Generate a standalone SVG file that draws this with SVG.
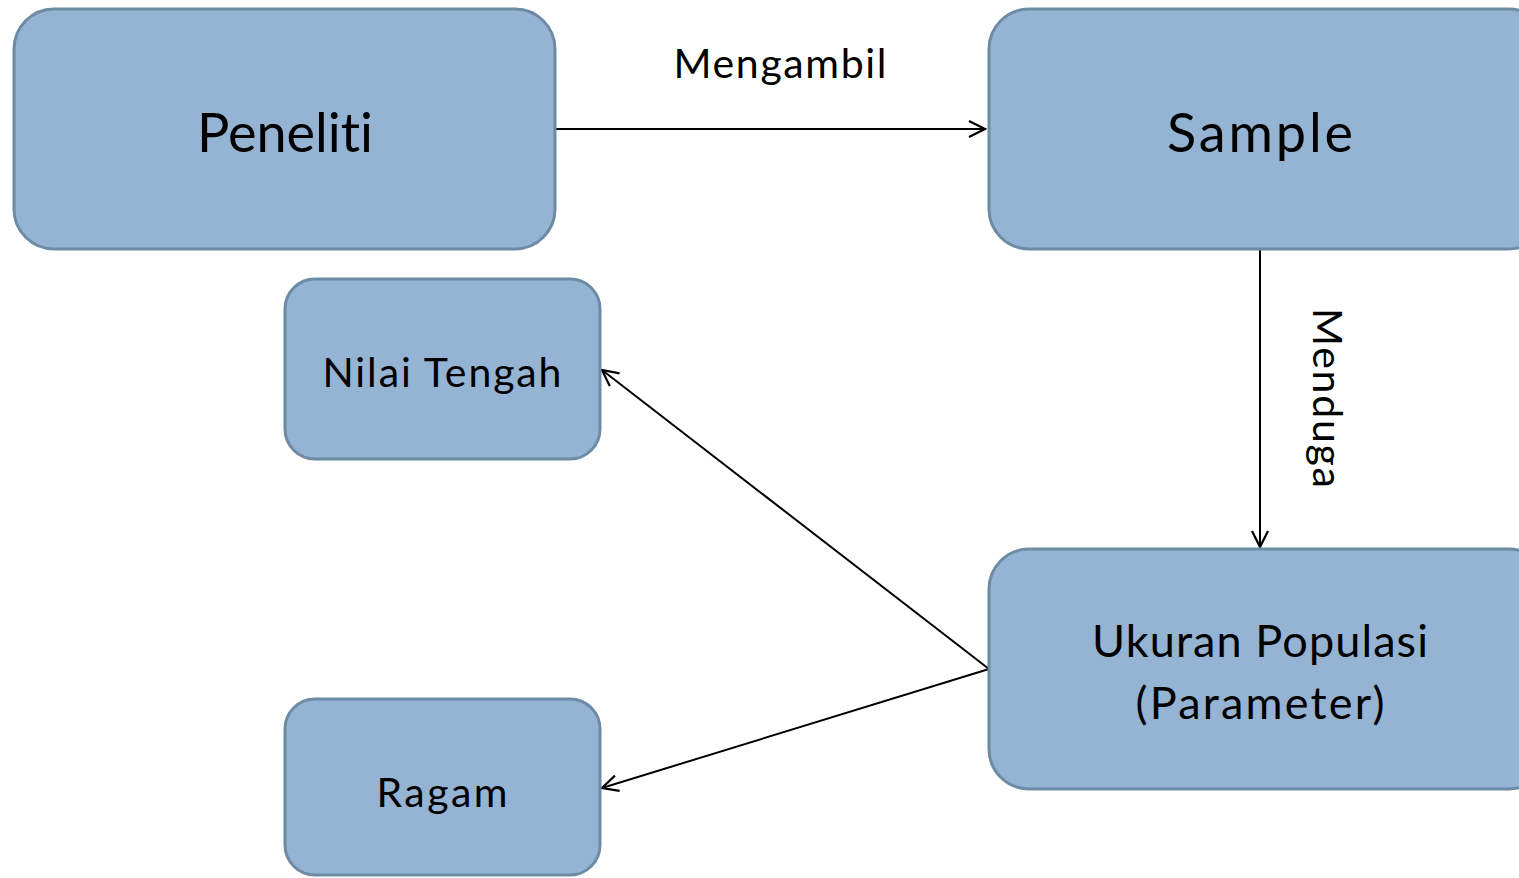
<svg xmlns="http://www.w3.org/2000/svg" width="1519" height="878" viewBox="0 0 1519 878">
<defs>
<style>
.box{fill:#95B3D3;stroke:#6E8BA6;stroke-width:3}
.t{font-family:Lato,"Open Sans",sans-serif;fill:#000;text-anchor:middle;font-variant-ligatures:none}
.c{stroke:#000;stroke-width:2;fill:none}
</style>
<marker id="arr" viewBox="0 0 20 20" refX="18" refY="10" markerWidth="20" markerHeight="20" markerUnits="userSpaceOnUse" orient="auto">
<path d="M2,2 L18,10 L2,18" fill="none" stroke="#000" stroke-width="2.2"/>
</marker>
</defs>
<rect width="1519" height="878" fill="#fff"/>
<g id="connectors">
<line class="c" x1="555" y1="129" x2="985" y2="129" marker-end="url(#arr)"/>
<line class="c" x1="1260" y1="249" x2="1260" y2="547" marker-end="url(#arr)"/>
<line class="c" x1="989" y1="669" x2="602" y2="370" marker-end="url(#arr)"/>
<line class="c" x1="989" y1="669" x2="602" y2="788" marker-end="url(#arr)"/>
</g>
<g id="peneliti">
<rect class="box" x="14" y="9" width="541" height="240" rx="40"/>
<text class="t" x="285" y="152" font-size="54" textLength="176">Peneliti</text>
</g>
<g id="sample">
<rect class="box" x="989" y="9" width="560" height="240" rx="40"/>
<text class="t" x="1260" y="152" font-size="54" textLength="186">Sample</text>
</g>
<g id="nilai-tengah">
<rect class="box" x="285" y="279" width="315" height="180" rx="30"/>
<text class="t" x="442" y="387" font-size="41" textLength="239">Nilai Tengah</text>
</g>
<g id="ragam">
<rect class="box" x="285" y="699" width="315" height="176" rx="30"/>
<text class="t" x="442" y="807" font-size="41" textLength="131">Ragam</text>
</g>
<g id="ukuran">
<rect class="box" x="989" y="549" width="560" height="240" rx="40"/>
<text class="t" x="1260" y="657" font-size="45" textLength="336">Ukuran Populasi</text>
<text class="t" x="1260" y="719" font-size="45" textLength="249">(Parameter)</text>
</g>
<g id="labels">
<text class="t" x="780" y="78" font-size="41" textLength="213">Mengambil</text>
<text class="t" transform="translate(1313,398) rotate(90)" font-size="41" textLength="180">Menduga</text>
</g>
</svg>
